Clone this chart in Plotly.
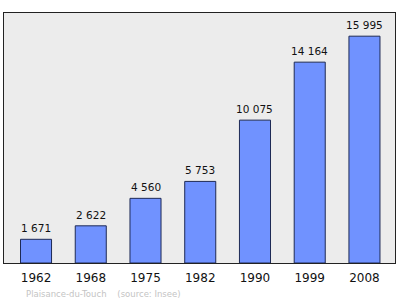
import plotly.graph_objects as go

years = ["1962", "1968", "1975", "1982", "1990", "1999", "2008"]
population = [1671, 2622, 4560, 5753, 10075, 14164, 15995]
footer = "Plaisance-du-Touch    (source: Insee)"

labels = [f"{v:,}".replace(",", " ") for v in population]

fig = go.Figure(go.Bar(
    x=years, y=population,
    marker=dict(color="#7092ff", line=dict(color="#1e2a55", width=1)),
    width=0.567,
))

annotations = [dict(x=i, y=v, text=t, xref="x", yref="y", showarrow=False,
                    yanchor="bottom", yshift=3,
                    font=dict(family="DejaVu Sans", size=10.5, color="#111"))
               for i, (v, t) in enumerate(zip(population, labels))]
annotations.append(dict(text=footer, xref="paper", yref="paper", x=0.05, y=-0.096,
                        xanchor="left", yanchor="top", showarrow=False,
                        font=dict(family="DejaVu Sans", size=8.5, color="#c4c4c4")))

fig.update_layout(
    width=400, height=299,
    margin=dict(l=4, r=5, t=13, b=36),
    paper_bgcolor="white", plot_bgcolor="#ececec",
    showlegend=False,
    xaxis=dict(type="category", range=[-0.585, 6.558], showline=True, mirror=True,
               linecolor="#222", linewidth=1, ticks="", showgrid=False,
               ticklabelstandoff=4,
               tickfont=dict(family="DejaVu Sans", size=12, color="#111")),
    yaxis=dict(range=[0, 17630], showline=True, mirror=True, linecolor="#222",
               linewidth=1, showticklabels=False, showgrid=False, zeroline=False, ticks=""),
    annotations=annotations,
)

fig.write_html("out.html")
